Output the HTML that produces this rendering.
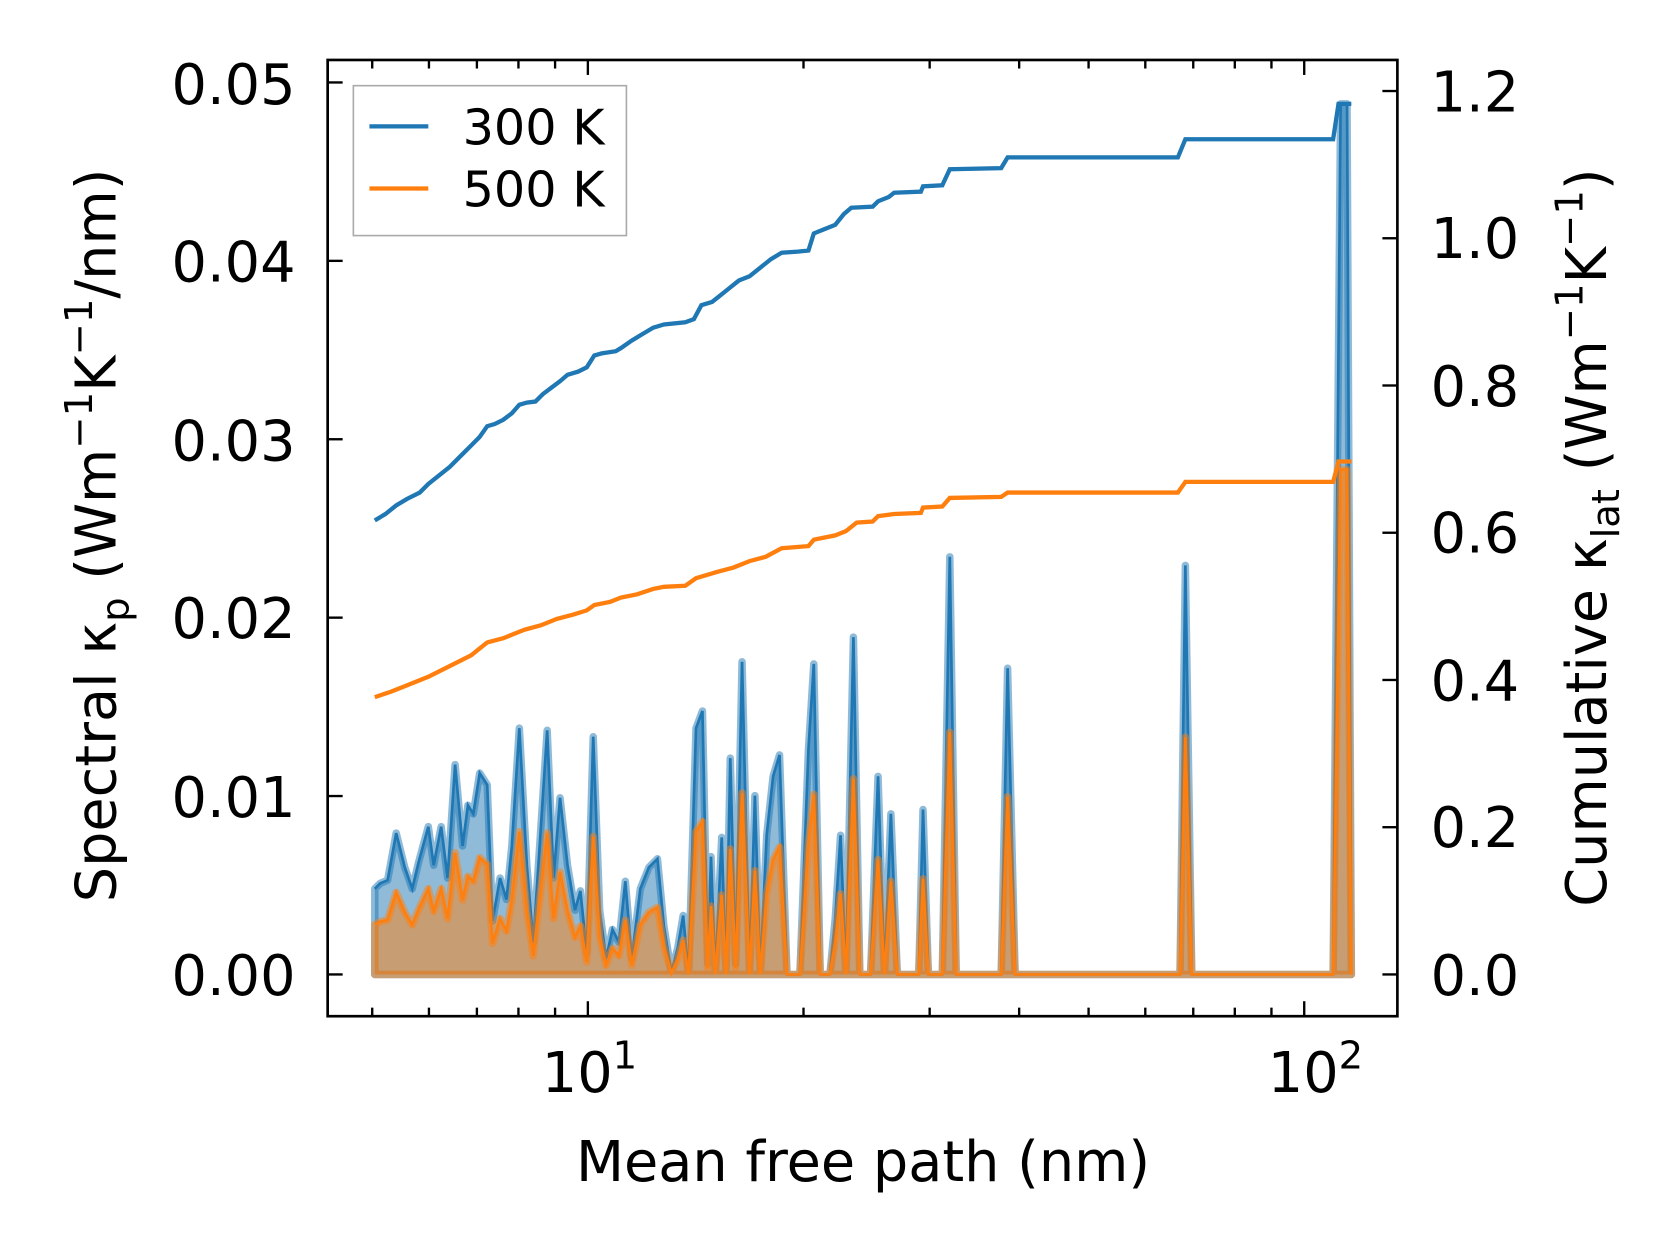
<!DOCTYPE html>
<html><head><style>html,body{margin:0;padding:0;background:#fff}svg{display:block}</style></head>
<body>
<svg id="s" width="1679" height="1255" viewBox="0 0 1568 1172" preserveAspectRatio="none" xmlns="http://www.w3.org/2000/svg" font-family="'DejaVu Sans','Liberation Sans',sans-serif">
<rect width="1568" height="1172" fill="#fff"/>
<g id="spec"></g>
<polyline fill="none" stroke="#1f77b4" stroke-width="4" points="350,486 360,480 370,472 380,466 392,460 400,452 410,444 420,436 428,428 440,416 448,408 455,398 462,396 470,392 478,386 485,378 492,376 500,375 507,368 515,362 523,356 530,350 540,347 548,343 555,332 562,330 575,328 580,325 590,318 600,312 610,306 620,303 640,301 648,298 655,285 665,282 670,278 680,270 690,262 700,258 710,250 720,242 730,236 745,235 755,234 760,218 770,214 780,210 788,200 795,194 815,193 820,188 830,184 835,180 860,179 862,174 880,173 887,158 935,157 941,147 1100,147 1107,130 1245,130 1250,97 1262,97"/>
<polyline fill="none" stroke="#ff7f0e" stroke-width="4" points="350,651 365,646 380,640 400,632 420,622 440,612 455,600 470,596 480,592 490,588 505,584 520,578 535,574 548,570 555,565 570,562 580,558 595,555 610,550 620,548 640,547 650,540 670,534 685,530 700,524 715,520 730,512 755,510 760,504 780,500 790,496 800,488 815,487 820,482 835,480 860,479 862,474 880,473 887,465 935,464 941,460 1100,460 1107,450 1245,450 1250,431 1262,431"/>
<rect x="306" y="56" width="999" height="893" fill="none" stroke="#000" stroke-width="2.5"/>
<g id="ticks" stroke="#000" stroke-width="2.2"></g>
<g font-size="52" fill="#000">
<g text-anchor="end">
<text x="276" y="929">0.00</text><text x="276" y="763">0.01</text><text x="276" y="596">0.02</text><text x="276" y="430">0.03</text><text x="276" y="263">0.04</text><text x="276" y="97">0.05</text>
</g>
<text x="1336" y="929">0.0</text><text x="1336" y="791">0.2</text><text x="1336" y="654">0.4</text><text x="1336" y="516">0.6</text><text x="1336" y="379">0.8</text><text x="1336" y="241">1.0</text><text x="1336" y="104">1.2</text>
<text x="506" y="1020">10<tspan font-size="36" dy="-22">1</tspan></text>
<text x="1184" y="1020">10<tspan font-size="36" dy="-22">2</tspan></text>
<text x="806" y="1103" text-anchor="middle">Mean free path (nm)</text>
<text transform="translate(108,500) rotate(-90)" text-anchor="middle">Spectral κ<tspan font-size="36" dy="12">p</tspan><tspan dy="-12"> (Wm</tspan><tspan font-size="36" dy="-22">−1</tspan><tspan dy="22">K</tspan><tspan font-size="36" dy="-22">−1</tspan><tspan dy="22">/nm)</tspan></text>
<text transform="translate(1500,502) rotate(-90)" text-anchor="middle">Cumulative κ<tspan font-size="36" dy="12">lat</tspan><tspan dy="-12"> (Wm</tspan><tspan font-size="36" dy="-22">−1</tspan><tspan dy="22">K</tspan><tspan font-size="36" dy="-22">−1</tspan><tspan dy="22">)</tspan></text>
</g>
<rect x="330" y="80" width="255" height="140" fill="#fff" fill-opacity="0.8" stroke="#aaa" stroke-width="1.5"/>
<line x1="345" y1="118" x2="400" y2="118" stroke="#1f77b4" stroke-width="4"/>
<line x1="345" y1="176" x2="400" y2="176" stroke="#ff7f0e" stroke-width="4"/>
<text x="432" y="135" font-size="46">300 K</text>
<text x="432" y="193" font-size="46">500 K</text>
</svg>
<script>
var NS="http://www.w3.org/2000/svg";
var b=[[350,830],[355,825],[362,822],[370,778],[378,810],[385,830],[391,805],[400,772],[405,808],[412,772],[418,820],[425,714],[432,790],[437,752],[442,760],[448,722],[455,733],[460,860],[467,820],[473,840],[478,790],[485,680],[492,808],[498,880],[504,790],[511,682],[517,820],[523,745],[530,808],[537,850],[542,832],[548,890],[554,688],[560,850],[566,895],[572,868],[578,880],[584,823],[590,895],[598,830],[606,810],[614,802],[620,865],[627,908],[633,885],[638,855],[643,910],[650,680],[656,664],[661,900],[664,800],[668,910],[674,782],[678,910],[682,708],[687,900],[693,618],[700,910],[705,743],[710,910],[716,780],[722,725],[728,705],[735,910],[742,910],[747,910],[755,700],[760,620],[766,910],[775,910],[780,858],[785,780],[790,910],[797,595],[803,910],[813,910],[820,725],[826,910],[832,760],[838,910],[858,910],[862,756],[867,910],[880,910],[887,520],[893,910],[935,910],[941,624],[948,910],[1095,910],[1102,910],[1107,528],[1113,910],[1245,910],[1252,97],[1258,97],[1262,910]];
var base=910;
var o=b.map(function(p){return [p[0],base-0.58*(base-p[1])];});
function pts(a){return a.map(function(p){return p[0]+","+p[1].toFixed(1)}).join(" ");}
var g=document.getElementById("spec");
function add(tag,attrs){var e=document.createElementNS(NS,tag);for(var k in attrs)e.setAttribute(k,attrs[k]);g.appendChild(e);}
[[b,"#1f77b4"],[o,"#ff7f0e"]].forEach(function(s){
 var a=s[0];var poly=[[a[0][0],base]].concat(a).concat([[a[a.length-1][0],base]]);
 add("polygon",{points:pts(poly),fill:s[1],"fill-opacity":"0.5",stroke:s[1],"stroke-opacity":"0.5","stroke-width":"7","stroke-linejoin":"round"});
 add("polyline",{points:pts(a),fill:"none",stroke:s[1],"stroke-width":"2.5"});
});
var t=document.getElementById("ticks");
function ln(x1,y1,x2,y2){var e=document.createElementNS(NS,"line");e.setAttribute("x1",x1);e.setAttribute("y1",y1);e.setAttribute("x2",x2);e.setAttribute("y2",y2);t.appendChild(e);}
function X(v){return 549+669*Math.log10(v/10);}
[5,6,7,8,9,20,30,40,50,60,70,80,90,200].forEach(function(v){var x=X(v);if(x>306&&x<1305){ln(x,949,x,941);ln(x,56,x,64);}});
[10,100].forEach(function(v){var x=X(v);ln(x,949,x,935);ln(x,56,x,70);});
for(var i=0;i<=5;i++){var y=910-i*166.6;ln(306,y,320,y);}
for(var i=0;i<=6;i++){var y=910-i*137.5;ln(1305,y,1291,y);}
</script>
</body></html>
